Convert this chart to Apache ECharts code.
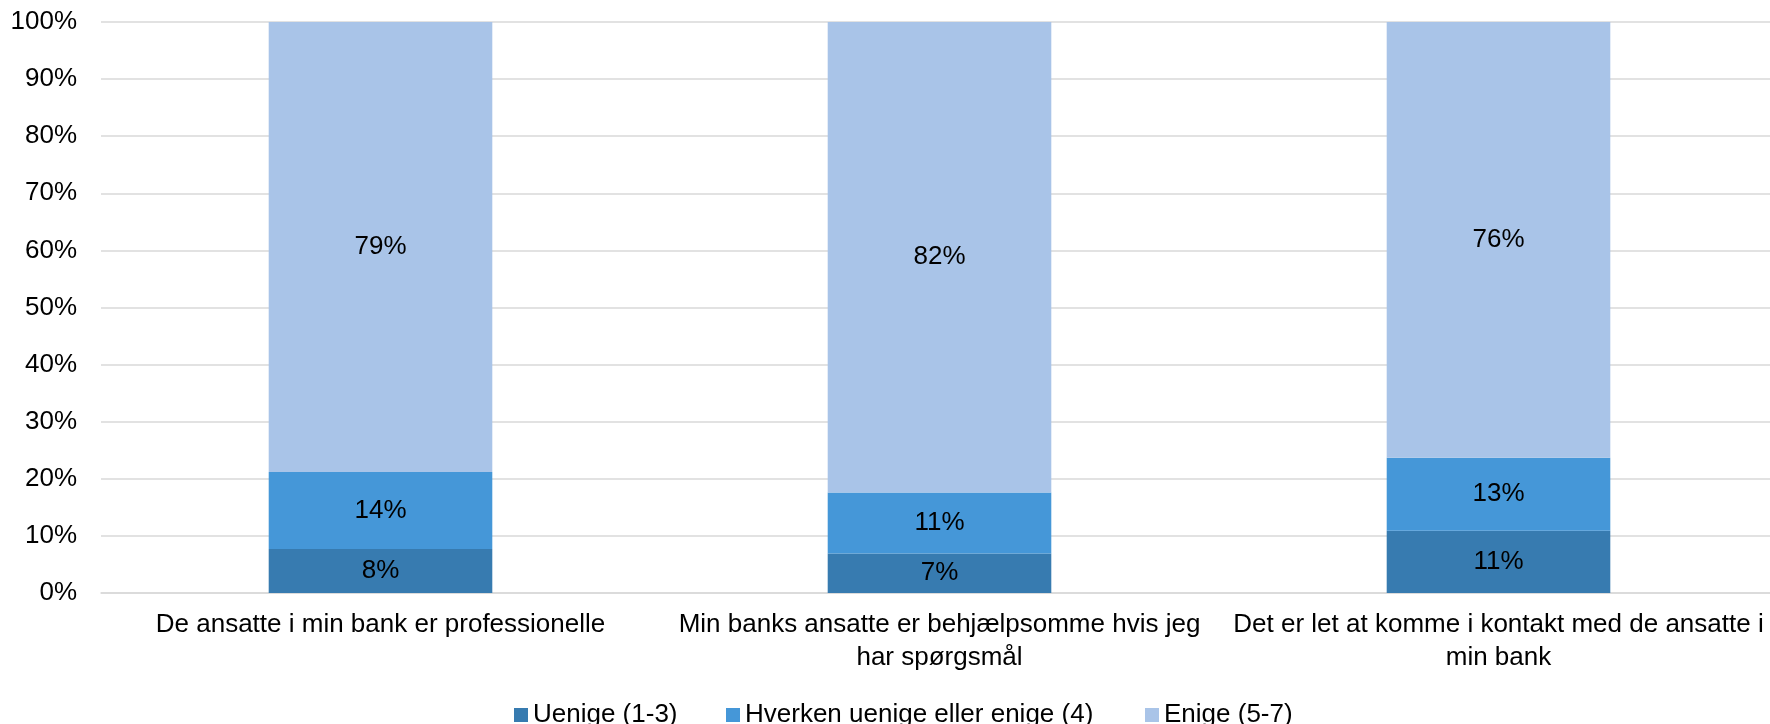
<!DOCTYPE html>
<html>
<head>
<meta charset="utf-8">
<title>Medarbejdere i banken</title>
<script src="https://cdn.jsdelivr.net/npm/echarts@6/dist/echarts.min.js"></script>
<style>
  html, body { margin: 0; padding: 0; background: #ffffff; overflow: hidden; }
  /* drawing surface is a little wider than the window so the plot runs past the right edge */
  #chart { width: 1780px; height: 724px; }
</style>
</head>
<body>
<div id="chart"></div>
<script>
// Survey statements (x-axis categories)
const categories = [
  'De ansatte i min bank er professionelle',
  'Min banks ansatte er behjælpsomme hvis jeg\nhar spørgsmål',
  'Det er let at komme i kontakt med de ansatte i\nmin bank'
];

// Answer groups, shares in percent
const seriesNames = ['Uenige (1-3)', 'Hverken uenige eller enige (4)', 'Enige (5-7)'];
const uenige = [7.7, 6.9, 10.9];
const hverken = [13.5, 10.7, 12.8];
const enige = [78.8, 82.4, 76.3];

// Y-axis ticks
const yTicks = [0, 10, 20, 30, 40, 50, 60, 70, 80, 90, 100];

const colors = ['#377BB0', '#4597D8', '#A9C4E8'];
const font = 'Liberation Sans, Arial, sans-serif';
const fontSize = 26;

const chart = echarts.init(document.getElementById('chart'), null, { renderer: 'canvas' });

function stackSeries(name, data, color) {
  return {
    name: name,
    type: 'bar',
    stack: 'total',
    barWidth: '40%',
    data: data,
    itemStyle: { color: color },
    label: {
      show: true,
      position: 'inside',
      color: '#000000',
      fontFamily: font,
      fontSize: fontSize,
      formatter: p => Math.round(p.value) + '%'
    },
    emphasis: { disabled: true }
  };
}

// each legend entry placed on its own
const legendLefts = [509, 721, 1140];

chart.setOption({
  animation: false,
  color: colors,
  grid: { left: 101, right: 2, top: 22, bottom: 131, containLabel: false },
  legend: seriesNames.map((n, i) => ({
    data: [n],
    left: legendLefts[i],
    top: 697,
    icon: 'rect',
    itemWidth: 14,
    itemHeight: 14,
    itemGap: 0,
    textStyle: { fontFamily: font, fontSize: fontSize, color: '#000000' },
    selectedMode: false
  })),
  xAxis: {
    type: 'category',
    data: categories,
    axisTick: { show: false },
    axisLine: { show: true, lineStyle: { color: '#d9d9d9', width: 1.5 } },
    axisLabel: {
      interval: 0,
      margin: 15,
      color: '#000000',
      fontFamily: font,
      fontSize: fontSize,
      lineHeight: 33,
      align: 'center'
    }
  },
  yAxis: {
    type: 'value',
    min: 0,
    max: 100,
    interval: 10,
    axisLine: { show: false },
    axisTick: { show: false },
    splitLine: { lineStyle: { color: '#d9d9d9', width: 1.5 } },
    axisLabel: {
      margin: 24,
      color: '#000000',
      fontFamily: font,
      fontSize: fontSize,
      formatter: v => (yTicks.includes(v) ? v + '%' : '')
    }
  },
  series: [
    stackSeries(seriesNames[0], uenige, colors[0]),
    stackSeries(seriesNames[1], hverken, colors[1]),
    stackSeries(seriesNames[2], enige, colors[2])
  ]
});
</script>
</body>
</html>
